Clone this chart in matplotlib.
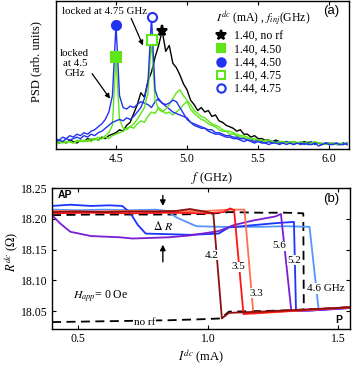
"""Injection-locking spectra (a) and R(I) hysteresis loops (b)."""

import matplotlib.pyplot as plt
from matplotlib.lines import Line2D

plt.rcParams["font.family"] = ["Liberation Serif", "DejaVu Serif"]
plt.rcParams["mathtext.fontset"] = "stix"

# ---------------- panel (a): PSD spectra ----------------
freq = [4.075, 4.100, 4.125, 4.150, 4.175, 4.200, 4.225, 4.250, 4.275, 4.300,
        4.325, 4.350, 4.375, 4.400, 4.425, 4.450, 4.475, 4.500, 4.525, 4.550,
        4.575, 4.600, 4.625, 4.650, 4.675, 4.700, 4.725, 4.750, 4.775, 4.800,
        4.825, 4.850, 4.875, 4.900, 4.925, 4.950, 4.975, 5.000, 5.025, 5.050,
        5.075, 5.100, 5.125, 5.150, 5.175, 5.200, 5.225, 5.250, 5.275, 5.300,
        5.325, 5.350, 5.375, 5.400, 5.425, 5.450, 5.475, 5.500, 5.525, 5.550,
        5.575, 5.600, 5.625, 5.650, 5.675, 5.700, 5.725, 5.750, 5.775, 5.800,
        5.825, 5.850, 5.875, 5.900, 5.925, 5.950, 5.975, 6.000, 6.025, 6.050,
        6.075, 6.100, 6.125]

psd_norf = [0.05, 0.04, 0.05, 0.04, 0.06, 0.05, 0.04, 0.06, 0.05, 0.07,
            0.06, 0.07, 0.06, 0.08, 0.07, 0.09, 0.10, 0.11, 0.13, 0.12,
            0.16, 0.18, 0.24, 0.30, 0.38, 0.35, 0.46, 0.52, 0.62, 0.70,
            0.80, 0.66, 0.70, 0.58, 0.55, 0.50, 0.44, 0.40, 0.33, 0.30,
            0.26, 0.28, 0.25, 0.26, 0.22, 0.23, 0.19, 0.18, 0.16, 0.15,
            0.14, 0.12, 0.13, 0.10, 0.10, 0.08, 0.09, 0.07, 0.07, 0.06,
            0.06, 0.05, 0.06, 0.05, 0.04, 0.05, 0.04, 0.05, 0.04, 0.04,
            0.05, 0.04, 0.03, 0.04, 0.04, 0.03, 0.04, 0.03, 0.04, 0.03,
            0.03, 0.04, 0.03]

psd_140_450 = [0.04, 0.05, 0.04, 0.05, 0.05, 0.04, 0.06, 0.05, 0.06, 0.05,
               0.07, 0.06, 0.08, 0.07, 0.09, 0.11, 0.16, 0.62, 0.20, 0.14,
               0.13, 0.15, 0.14, 0.17, 0.19, 0.18, 0.22, 0.25, 0.24, 0.28,
               0.26, 0.24, 0.25, 0.23, 0.25, 0.27, 0.30, 0.32, 0.27, 0.24,
               0.22, 0.20, 0.19, 0.17, 0.16, 0.15, 0.13, 0.12, 0.12, 0.10,
               0.10, 0.09, 0.08, 0.08, 0.07, 0.07, 0.06, 0.06, 0.05, 0.06,
               0.05, 0.04, 0.05, 0.04, 0.05, 0.04, 0.04, 0.05, 0.04, 0.03,
               0.04, 0.05, 0.04, 0.03, 0.04, 0.04, 0.03, 0.04, 0.03, 0.04,
               0.03, 0.03, 0.04]

psd_144_450 = [0.07, 0.06, 0.08, 0.07, 0.09, 0.08, 0.10, 0.09, 0.11, 0.10,
               0.12, 0.13, 0.15, 0.17, 0.20, 0.25, 0.36, 0.84, 0.36, 0.28,
               0.27, 0.29, 0.28, 0.30, 0.32, 0.31, 0.30, 0.28, 0.32, 0.34,
               0.31, 0.29, 0.27, 0.25, 0.24, 0.23, 0.22, 0.21, 0.18, 0.17,
               0.16, 0.15, 0.14, 0.13, 0.13, 0.11, 0.11, 0.10, 0.09, 0.09,
               0.08, 0.08, 0.07, 0.07, 0.06, 0.06, 0.05, 0.06, 0.05, 0.04,
               0.05, 0.04, 0.05, 0.04, 0.04, 0.05, 0.04, 0.03, 0.04, 0.04,
               0.03, 0.04, 0.05, 0.03, 0.04, 0.03, 0.04, 0.04, 0.03, 0.04,
               0.03, 0.04, 0.03]

psd_140_475 = [0.03, 0.04, 0.05, 0.04, 0.05, 0.04, 0.05, 0.06, 0.05, 0.06,
               0.05, 0.07, 0.06, 0.07, 0.08, 0.07, 0.09, 0.10, 0.11, 0.12,
               0.14, 0.15, 0.17, 0.20, 0.24, 0.28, 0.38, 0.74, 0.33, 0.27,
               0.25, 0.27, 0.30, 0.34, 0.38, 0.40, 0.36, 0.33, 0.30, 0.26,
               0.24, 0.22, 0.21, 0.19, 0.17, 0.16, 0.15, 0.13, 0.12, 0.12,
               0.11, 0.10, 0.09, 0.09, 0.08, 0.07, 0.07, 0.06, 0.06, 0.05,
               0.06, 0.05, 0.04, 0.05, 0.05, 0.04, 0.05, 0.04, 0.04, 0.05,
               0.04, 0.03, 0.04, 0.05, 0.04, 0.04, 0.03, 0.04, 0.04, 0.03,
               0.04, 0.03, 0.04]

psd_144_475 = [0.05, 0.06, 0.05, 0.07, 0.06, 0.07, 0.08, 0.07, 0.09, 0.08,
               0.10, 0.09, 0.11, 0.12, 0.14, 0.16, 0.18, 0.19, 0.20, 0.19,
               0.21, 0.20, 0.22, 0.25, 0.28, 0.34, 0.45, 0.89, 0.40, 0.33,
               0.31, 0.30, 0.31, 0.33, 0.32, 0.28, 0.24, 0.20, 0.18, 0.16,
               0.15, 0.14, 0.14, 0.12, 0.11, 0.10, 0.10, 0.09, 0.08, 0.08,
               0.07, 0.07, 0.06, 0.05, 0.06, 0.05, 0.04, 0.05, 0.04, 0.04,
               0.03, 0.04, 0.04, 0.03, 0.04, 0.03, 0.04, 0.03, 0.04, 0.03,
               0.04, 0.03, 0.03, 0.04, 0.02, 0.03, 0.04, 0.03, 0.03, 0.04,
               0.03, 0.03, 0.04]

spectra_labels = ["1.40, no rf", "1.40, 4.50", "1.44, 4.50", "1.40, 4.75", "1.44, 4.75"]

# ---------------- panel (b): R(I) loops ----------------
I_norf_up = [0.40, 0.55, 0.70, 0.85, 1.00, 1.08, 1.20, 1.30, 1.366, 1.368]
R_norf_up = [18.206, 18.207, 18.207, 18.207, 18.208, 18.211, 18.210, 18.210, 18.209, 18.052]
I_norf_dn = [0.40, 0.55, 0.70, 0.85, 1.00, 1.05, 1.08, 1.20, 1.30, 1.40, 1.50, 1.546]
R_norf_dn = [18.032, 18.033, 18.034, 18.035, 18.037, 18.038, 18.049, 18.050, 18.051, 18.053,
             18.055, 18.057]

I_42 = [0.40, 0.50, 0.60, 0.70, 0.80, 0.88, 0.93, 0.97, 1.02, 1.053, 1.08, 1.20, 1.35, 1.546]
R_42 = [18.211, 18.212, 18.211, 18.212, 18.212, 18.213, 18.216, 18.213, 18.209, 18.038,
        18.047, 18.049, 18.052, 18.056]
I_35 = [0.40, 0.55, 0.70, 0.85, 1.00, 1.06, 1.085, 1.10, 1.136, 1.20, 1.35, 1.546]
R_35 = [18.209, 18.210, 18.209, 18.210, 18.209, 18.211, 18.217, 18.214, 18.045, 18.047,
        18.051, 18.056]
I_33 = [0.40, 0.55, 0.70, 0.85, 1.00, 1.08, 1.14, 1.174, 1.25, 1.40, 1.546]
R_33 = [18.213, 18.212, 18.213, 18.212, 18.213, 18.215, 18.215, 18.046, 18.048, 18.052, 18.056]
I_56 = [0.40, 0.43, 0.47, 0.55, 0.66, 0.71, 0.85, 0.93, 1.04, 1.10, 1.17, 1.26, 1.28, 1.32,
        1.40, 1.546]
R_56 = [18.206, 18.193, 18.179, 18.172, 18.170, 18.168, 18.170, 18.173, 18.180, 18.190,
        18.197, 18.204, 18.208, 18.050, 18.051, 18.055]
I_52 = [0.40, 0.47, 0.55, 0.62, 0.67, 0.70, 0.73, 0.76, 0.85, 0.93, 1.04, 1.08, 1.18, 1.26,
        1.33, 1.338, 1.40, 1.546]
R_52 = [18.221, 18.223, 18.221, 18.222, 18.221, 18.210, 18.190, 18.176, 18.175, 18.174,
        18.176, 18.186, 18.190, 18.193, 18.195, 18.050, 18.051, 18.055]
I_46 = [0.40, 0.50, 0.60, 0.70, 0.80, 0.84, 0.88, 0.955, 1.05, 1.20, 1.30, 1.39, 1.425,
        1.48, 1.546]
R_46 = [18.215, 18.214, 18.215, 18.214, 18.215, 18.213, 18.202, 18.188, 18.187, 18.187,
        18.188, 18.187, 18.052, 18.053, 18.056]

fig = plt.figure(figsize=(3.54, 3.66), dpi=100)
ax_a = fig.add_axes([0.157, 0.593, 0.829, 0.404])
ax_b = fig.add_axes([0.147, 0.101, 0.842, 0.385])

green = "#5ee619"
blue = "#2233f0"

spec = [
    (psd_norf, "black", "*", "black"),
    (psd_140_450, green, "s", green),
    (psd_144_450, blue, "o", blue),
    (psd_140_475, green, "s", "white"),
    (psd_144_475, blue, "o", "white"),
]
handles = []
for (psd, col, mk, face), lab in zip(spec, spectra_labels):
    ax_a.plot(freq, psd, color=col, lw=1.0)
for (psd, col, mk, face), lab in zip(spec, spectra_labels):
    k = psd.index(max(psd))
    ms = 8 if mk == "*" else 6.5
    ax_a.plot([freq[k]], [psd[k]], marker=mk, ms=ms, color=col, mfc=face, mew=1.5,
              ls="none", zorder=5, clip_on=False)
    handles.append(Line2D([], [], marker=mk, ms=ms - 0.5, color=col, mfc=face, mew=1.5,
                          ls="none"))

leg = ax_a.legend(handles, spectra_labels, title=r"$I^{dc}$ (mA) , $f_{inj}$(GHz)",
                  loc="upper left", bbox_to_anchor=(0.545, 0.94), frameon=False,
                  fontsize=8.5, title_fontsize=8.5, handlelength=1.0, handletextpad=0.6,
                  labelspacing=0.1, borderpad=0, borderaxespad=0, alignment="left")

ax_a.set_xlim(4.075, 6.14)
ax_a.set_ylim(0, 1.0)
ax_a.set_xticks([4.5, 5.0, 5.5, 6.0])
ax_a.set_xticklabels(["4.5", "5.0", "5.5", "6.0"])
ax_a.set_yticks([])
ax_a.set_xlabel(r"$f$ (GHz)", fontsize=9)
ax_a.xaxis.set_label_coords(0.533, -0.14)
ax_a.set_ylabel("PSD (arb. units)", fontsize=9)
ax_a.yaxis.set_label_coords(-0.045, 0.59)
ax_a.text(0.965, 0.93, "(a)", transform=ax_a.transAxes, ha="right", va="center",
          fontsize=9.5, family="Liberation Sans")
ax_a.annotate("locked at 4.75 GHz", xy=(4.69, 0.70), xytext=(4.12, 0.932),
              ha="left", va="center", fontsize=7.8,
              arrowprops=dict(arrowstyle="-|>", color="black", lw=0.9, mutation_scale=7,
                              shrinkA=0, shrinkB=0, relpos=(0.8, 0.0)))
ax_a.annotate("locked\nat 4.5\nGHz", xy=(4.458, 0.34), xytext=(4.21, 0.575),
              ha="center", va="center", fontsize=7.8, multialignment="center",
              linespacing=1.15,
              arrowprops=dict(arrowstyle="-|>", color="black", lw=0.9, mutation_scale=7,
                              shrinkA=0, shrinkB=0, relpos=(1.0, 0.3)))

# panel (b)
dash = dict(color="black", lw=1.3, dashes=(5, 3))
ax_b.plot(I_norf_dn, R_norf_dn, **dash)
ax_b.plot(I_norf_up, R_norf_up, **dash)
loops = [
    (I_46, R_46, "#5595ff"),
    (I_52, R_52, "#1a35ff"),
    (I_56, R_56, "#7a1ed2"),
    (I_33, R_33, "#ff7050"),
    (I_35, R_35, "#ff1515"),
    (I_42, R_42, "#8e0f0f"),
]
for I, R, col in loops:
    ax_b.plot(I, R, color=col, lw=1.3)

box = dict(facecolor="white", edgecolor="none", pad=0.6)
for txt, x, y in [("4.2", 1.013, 18.141), ("3.5", 1.117, 18.122), ("3.3", 1.186, 18.079),
                  ("5.6", 1.274, 18.156), ("5.2", 1.331, 18.133), ("4.6 GHz", 1.452, 18.087),
                  ("no rf", 0.757, 18.032)]:
    ax_b.text(x, y, txt, ha="center", va="center", fontsize=8, bbox=box, zorder=6)

ax_b.text(0.826, 18.187, r"$\Delta$ $R$", ha="center", va="center", fontsize=8.5)
ax_b.text(0.585, 18.073, r"$H_{app}$= 0 Oe", ha="center", va="center", fontsize=8.5)
ax_b.text(0.45, 18.239, "AP", ha="center", va="center", fontsize=7.5, weight="bold",
          family="Liberation Sans")
ax_b.text(1.504, 18.035, "P", ha="center", va="center", fontsize=7.5, weight="bold",
          family="Liberation Sans")
ax_b.text(0.965, 0.92, "(b)", transform=ax_b.transAxes, ha="right", va="center",
          fontsize=9.5, family="Liberation Sans")
ax_b.annotate("", xy=(0.826, 18.221), xytext=(0.826, 18.238),
              arrowprops=dict(arrowstyle="-|>", color="black", lw=1.0, mutation_scale=8,
                              shrinkA=0, shrinkB=0))
ax_b.annotate("", xy=(0.826, 18.158), xytext=(0.826, 18.130),
              arrowprops=dict(arrowstyle="-|>", color="black", lw=1.0, mutation_scale=8,
                              shrinkA=0, shrinkB=0))

ax_b.set_xlim(0.40, 1.546)
ax_b.set_ylim(18.0207, 18.25)
ax_b.set_xticks([0.5, 1.0, 1.5])
ax_b.set_xticklabels(["0.5", "1.0", "1.5"])
ax_b.set_yticks([18.05, 18.10, 18.15, 18.20, 18.25])
ax_b.set_yticklabels(["18.05", "18.10", "18.15", "18.20", "18.25"])
ax_b.set_xlabel(r"$I^{dc}$ (mA)", fontsize=9, labelpad=2)
ax_b.set_ylabel(r"$R^{dc}$ ($\Omega$)", fontsize=9)
ax_b.yaxis.set_label_coords(-0.105, 0.55)

for ax in (ax_a, ax_b):
    ax.tick_params(direction="in", top=True, right=True, length=3, width=0.8,
                   labelsize=8.5, pad=3)
    for sp in ax.spines.values():
        sp.set_linewidth(1.0)

fig.savefig("out.png", dpi=100)
